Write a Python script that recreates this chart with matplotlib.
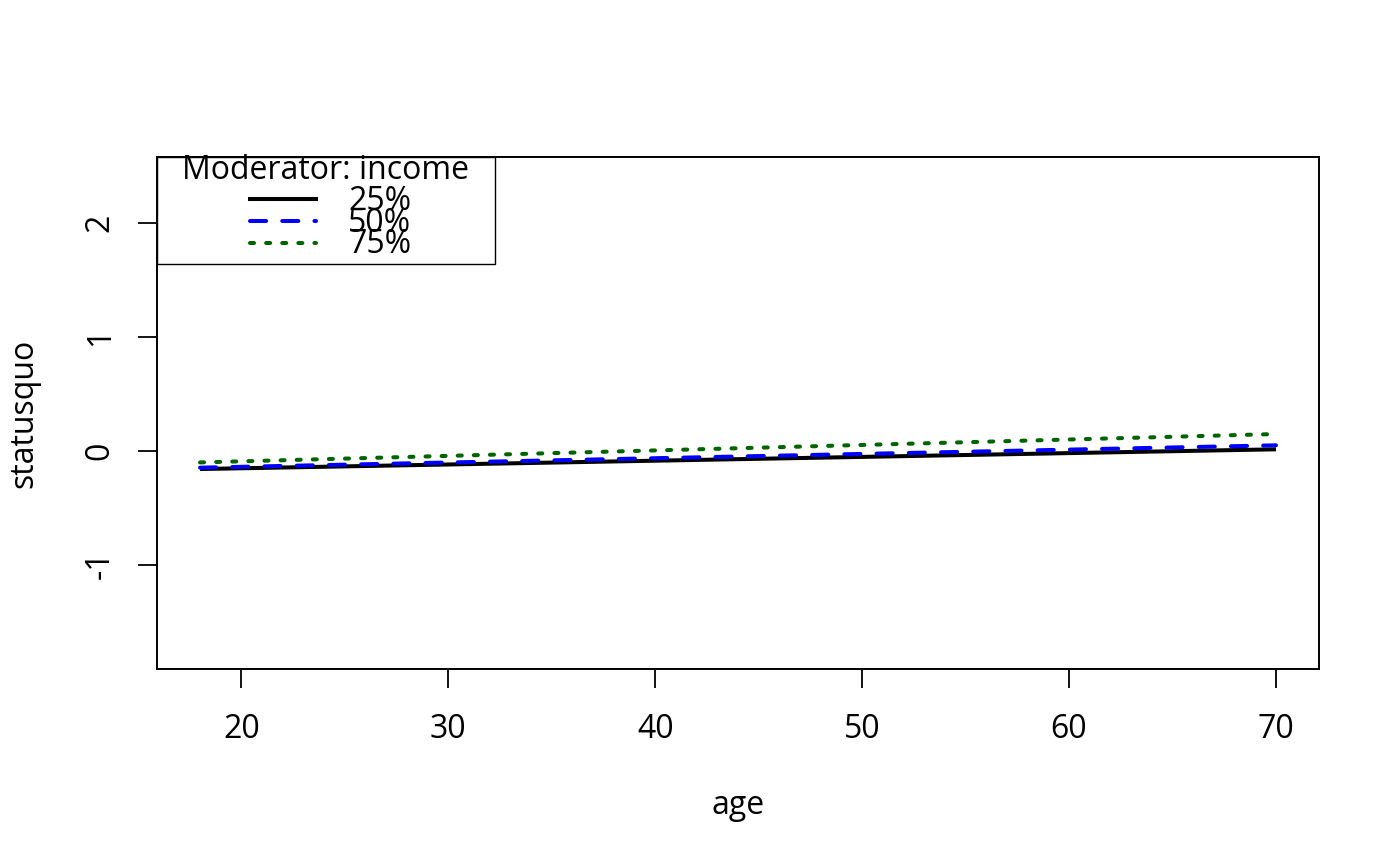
import matplotlib
matplotlib.use("Agg")
import matplotlib.pyplot as plt
from matplotlib.lines import Line2D
from matplotlib.patches import Rectangle

plt.rcParams['font.family'] = ['Open Sans', 'DejaVu Sans']

age = [18, 70]
q25 = [-0.158, 0.015]
q50 = [-0.146, 0.050]
q75 = [-0.100, 0.149]
labels = ["25%", "50%", "75%"]
legend_title = "Moderator: income"
xticks = [20, 30, 40, 50, 60, 70]
yticks = [-1, 0, 1, 2]

W, H = 1400, 866
FS = 23
fig = plt.figure(figsize=(14, 8.66), dpi=100)
ax = fig.add_axes([157 / W, (H - 669) / H, (1319 - 157) / W, (669 - 157) / H])

lw = 2.9
colors = ["black", "#0000FF", "#006400"]
styles = ["-", (0, (4, 4)), (0, (1, 3))]
series = [q25, q50, q75]
for ys, c, s in zip(series, colors, styles):
    ax.plot(age, ys, color=c, lw=lw, linestyle=s, dash_capstyle='round',
            solid_capstyle='butt')

ax.set_xlim(15.92, 72.08)
ax.set_ylim(-1.912, 2.579)
ax.set_xticks(xticks)
ax.set_yticks(yticks)
ax.set_yticklabels([str(v) for v in yticks], rotation=90, va='center')
ax.tick_params(axis='both', length=14, width=1.3, labelsize=FS)
ax.tick_params(axis='x', pad=18)
ax.tick_params(axis='y', pad=15)
for sp in ax.spines.values():
    sp.set_linewidth(1.4)
ax.set_xlabel("age", fontsize=FS, labelpad=31)
ax.set_ylabel("statusquo", fontsize=FS, labelpad=31)


# legend (drawn manually in pixel-based axes fraction)
def fx(px):
    return (px - 157) / (1319 - 157)


def fy(py):
    return (669 - py) / (669 - 157)


box = Rectangle((fx(157), fy(264)), fx(495) - fx(157), fy(157) - fy(264),
                transform=ax.transAxes, fill=True, facecolor='white',
                edgecolor='black', lw=1.0, clip_on=False, zorder=5)
ax.add_patch(box)
ax.text(fx(326), fy(179), legend_title, transform=ax.transAxes, ha='center',
        va='baseline', fontsize=FS, zorder=6)
rows = [199, 221, 243]
baselines = [210, 232, 253]
for lab, c, s, r, b in zip(labels, colors, styles, rows, baselines):
    ax.add_line(Line2D([fx(250), fx(316)], [fy(r), fy(r)], transform=ax.transAxes,
                       color=c, lw=lw, linestyle=s, dash_capstyle='round',
                       clip_on=False, zorder=6))
    ax.text(fx(348), fy(b), lab, transform=ax.transAxes, ha='left',
            va='baseline', fontsize=FS, zorder=6)

fig.savefig("out.png", dpi=100)
